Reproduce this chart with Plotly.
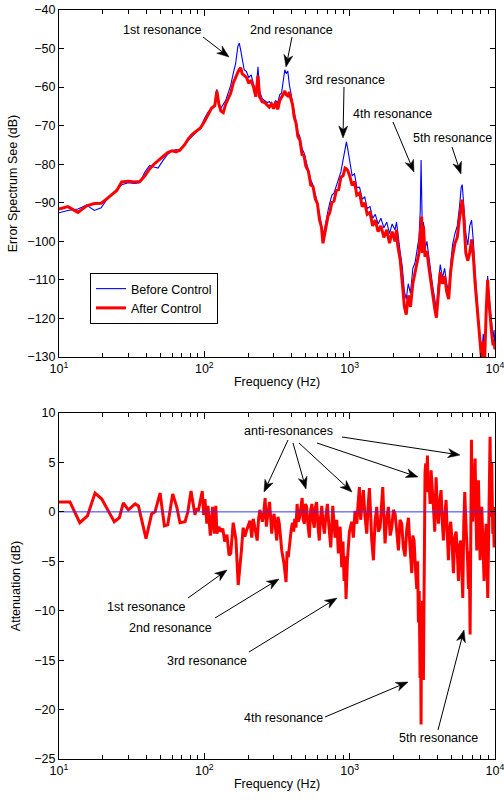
import math
import plotly.graph_objects as go

# ---------------- error spectrum (upper panel) ----------------
freq_spec = [
    10, 11.5, 13.5, 15.5, 17.5, 19.5, 21, 23, 25, 27, 30, 33, 36, 39, 42, 45, 48, 52, 56, 60, 64, 68, 73, 78, 83, 88, 94,
    100, 106, 112, 118, 122, 126, 130, 135, 140, 146, 152, 158, 164, 170, 174, 178, 182, 188, 195, 202, 210, 218, 226, 234,
    240, 250, 260, 270, 280, 290,
    300, 310, 320, 330, 340, 350, 358, 366, 375, 385, 395, 405, 415, 428, 440, 455, 470, 485, 500, 520, 540, 560, 580, 600,
    620, 640, 655, 670, 690, 710, 730, 755, 780, 810, 840, 870, 900, 930, 950, 970,
    1000, 1040, 1080, 1120, 1170, 1220, 1270, 1320, 1380, 1440, 1500, 1570, 1640, 1720, 1800, 1880, 1960, 2050, 2100, 2140,
    2230, 2300, 2380, 2450, 2530, 2620, 2720, 2820, 2920, 3000,
    3060, 3100, 3130, 3160, 3220, 3300, 3400, 3500, 3600, 3720, 3850, 3950, 4050, 4200, 4350, 4500, 4650, 4800, 4950, 5100,
    5300, 5500, 5700, 5850, 5950, 6100, 6300, 6500, 6700, 6900, 7100, 7300, 7500, 7700, 7900, 8100, 8300, 8500, 8700, 8900,
    9100, 9300, 9500, 9700, 9850, 10000,
]
before_db = [
    -92.6, -92.0, -91.6, -90.6, -92.0, -91.3, -89.5, -87.8, -86.5, -85.3, -84.8, -85.0, -84.8, -82.0, -80.3, -80.7, -81.0,
    -79.0, -77.4, -76.5, -76.2, -76.6, -74.8, -73.7, -72.6, -71.7, -70.6,
    -68.2, -66.5, -65.5, -64.5, -60.6, -64.5, -65.5, -64.5, -63.5, -61.5, -59.5, -56.5, -54.0, -49.5, -48.6, -50.5, -53.0,
    -55.5, -56.0, -57.5, -56.8, -59.5, -61.5, -54.7,
    -61.0, -63.0, -63.5, -64.0, -63.8, -64.5,
    -64.6, -63.5, -64.0, -62.0, -61.5, -57.5, -55.5, -56.5, -55.8, -59.5, -62.0, -64.0, -66.0, -69.0, -71.5, -73.0, -76.0,
    -77.0, -79.0, -81.0, -84.0, -85.5, -87.5, -90.0,
    -93.0, -96.0, -98.0, -97.0, -94.0, -92.0, -90.0, -88.0, -87.5, -85.5, -84.0, -82.0, -79.0, -76.0, -74.2, -76.0,
    -79.5, -83.0, -82.5, -86.0, -86.0, -89.0, -88.5, -91.5, -91.0, -94.0, -93.0, -95.5, -94.0, -96.5, -95.0, -98.0, -95.5,
    -97.0, -95.0, -98.0,
    -103.0, -106.5, -113.0, -115.0, -111.0, -113.5, -107.0, -105.5, -101.0, -99.0,
    -92.0, -78.9, -88.0, -97.0, -95.0, -102.0, -100.0, -104.0, -108.0, -111.5, -115.0, -118.0, -112.0, -106.0, -109.5,
    -107.0, -111.0, -113.0, -106.0, -101.0,
    -98.0, -96.0, -91.0, -86.0, -85.3, -90.0, -98.0, -101.0, -96.0, -94.5, -100.0, -108.0, -115.0, -120.0, -126.0, -130.0,
    -124.0, -128.0, -117.0, -109.0,
    -114.0, -118.0, -121.0, -125.0, -123.0, -128.0,
]
after_db = [
    -91.6, -91.0, -92.5, -90.8, -90.2, -90.1, -89.2, -88.0, -86.8, -84.6, -84.4, -84.6, -84.5, -83.0, -81.2, -80.0, -79.2,
    -78.0, -77.0, -76.5, -76.8, -76.3, -75.0, -73.3, -72.2, -71.5, -70.6,
    -69.0, -67.0, -65.5, -64.8, -61.0, -64.5, -66.2, -66.6, -64.5, -63.0, -61.5, -59.0, -57.3, -56.2, -55.4, -55.0, -56.5,
    -57.0, -57.5, -59.0, -58.2, -60.0, -62.5, -57.0,
    -62.5, -63.8, -64.0, -64.6, -65.2, -64.4,
    -65.6, -63.8, -65.8, -63.5, -62.8, -61.8, -61.0, -62.0, -62.3, -61.3, -63.2, -64.6, -67.8, -69.4, -72.8, -73.8, -77.5,
    -77.8, -80.6, -81.8, -85.4, -85.8, -89.0, -90.2,
    -94.4, -96.4, -100.5, -98.4, -96.4, -93.4, -92.6, -89.8, -89.6, -86.8, -86.6, -83.4, -83.0, -81.0, -81.2, -81.6,
    -83.0, -85.5, -84.5, -88.0, -87.5, -91.0, -90.0, -93.0, -92.5, -96.0, -94.5, -97.5, -96.0, -99.0, -97.0, -100.5, -97.5,
    -100.0, -97.0, -101.0,
    -105.0, -110.0, -117.0, -119.0, -114.0, -117.0, -111.0, -108.0, -105.0, -103.0,
    -98.0, -95.0, -93.6, -103.0, -96.0, -104.0, -102.5, -106.5, -110.0, -113.5, -117.5, -119.8, -114.0, -108.0, -111.0,
    -109.0, -113.0, -115.0, -108.0, -104.0,
    -100.5, -99.0, -94.0, -90.0, -89.2, -94.0, -103.0, -105.0, -103.0, -99.5, -104.0, -111.0, -116.0, -121.0, -127.0,
    -131.0, -126.0, -130.0, -118.0, -110.0,
    -116.0, -121.0, -124.0, -127.0, -126.0, -128.0,
]

# ---------------- attenuation (lower panel) ----------------
freq_att = [
    10, 11.9, 13.9, 15.7, 17.7, 19.7, 24, 26, 27.7, 30, 33.4, 35.2, 39.7, 43.4, 45.8, 49.6, 53.1, 56, 60.6, 64.6, 68,
    73.7, 77, 81, 86.2, 88, 90.9, 96.8,
    99, 101, 104, 106, 110, 114, 117, 120, 122, 126, 130, 134, 138, 143, 148, 152, 158, 165, 171, 176, 180, 185, 190, 196,
    206, 212, 217, 224, 231, 236, 241, 251, 256, 262, 267, 272, 281, 291, 296, 302, 308, 315, 321, 328, 341, 354, 365,
    371, 378, 388, 396, 404, 412, 419, 427, 435, 443, 452, 460, 471, 479, 488, 497, 506, 517, 528, 539, 550, 560, 571,
    580, 592, 605, 618, 630, 643, 656, 670, 686, 703, 720, 741, 765, 780, 793, 815, 836, 860, 882, 900, 915, 930, 944,
    965, 980, 996,
    1033, 1060, 1089, 1120, 1145, 1167, 1190, 1211, 1243, 1275, 1311, 1340, 1367, 1395, 1419, 1457, 1495, 1536, 1575,
    1619, 1650, 1689, 1720, 1752, 1800, 1847, 1900, 1948, 2000, 2053, 2110, 2165, 2220, 2282, 2340, 2406, 2470, 2537,
    2600, 2675, 2720, 2775, 2830, 2894, 2935, 2972, 3010, 3051, 3075, 3100, 3115, 3133, 3170, 3217, 3245, 3268, 3300,
    3338, 3380, 3428, 3470, 3519, 3575, 3633, 3700, 3770, 3850, 3932, 4000, 4080, 4160, 4256, 4330, 4417, 4500, 4607,
    4690, 4781, 4870, 4961, 5060, 5175, 5290, 5400, 5500, 5604, 5700, 5815, 5900, 6002, 6100, 6195, 6300, 6395, 6480,
    6566, 6650, 6742, 6800, 6886, 6950, 7020, 7107, 7200, 7297, 7390, 7492, 7590, 7692, 7800, 7898, 8000, 8109, 8250,
    8413, 8550, 8685, 8800, 8917, 9050, 9155, 9250, 9320, 9400, 9500, 9580, 9654, 9760, 9860, 9930, 10000,
]
attenuation_db = [
    1.0, 1.0, -1.1, -0.4, 1.9, 1.3, -1.0, -0.6, 0.9, 0.2, 0.8, 0.6, -2.7, -0.2, 0.0, 1.9, -1.4, -1.3, 1.8, 0.5, -1.1,
    -1.0, 0.0, 2.1, -0.3, 0.3, 0.1, 2.1,
    -0.3, 1.3, -1.2, 0.6, -2.4, 0.5, -2.2, 0.6, -2.2, -1.5, -2.0, -1.7, -3.0, -2.3, -4.4, -4.2, -1.1, -2.8, -7.4, -5.6,
    -3.9, -1.6, -2.5, -1.8,
    -0.9, -2.6, -0.7, -1.8, -2.9, -0.8, 0.2, -1.0, -0.2, 1.4, -1.5, -0.5, 1.0, -2.2, -0.8, -0.2, -1.5, -2.9, -0.5, -1.2,
    -3.9, -5.3, -7.1,
    -4.0, -4.6, -2.6, -1.8, -1.1, -2.0, -0.7, -1.6, 0.8, -1.0, -0.6, 0.4, 1.4, -0.8, -1.2, 0.8, 0.5, -1.4, -2.6, 0.2,
    0.8, -0.9, -1.6,
    0.4, 1.0, -1.4, -2.9, -0.6, 0.6, -1.2, -2.2, -0.4, 0.8, -1.5, -3.6, 0.6, -1.2, -2.6, -0.8, -4.2, -1.5, -5.6, -3.0,
    -7.0, -4.5, -8.8,
    -4.9, -3.2, -2.0,
    -1.0, -2.6, 0.1, -1.2, 1.0, 2.5, -0.8, 0.5, 2.2, -0.5, -2.2, 0.6, 2.4, -0.3, -2.9, -4.9, -1.0, 0.5, -2.0,
    -1.6, 0.8, 2.5, -0.5, -3.2, -0.6, 0.5, -2.4, -1.6, 0.2, -0.2, -2.0, -3.9, -0.8, -1.2, -3.6, -4.5, -1.8, -0.6,
    -3.5, -6.2, -2.4, -2.9, -5.5, -7.8, -5.0, -11.2, -8.0, -16.8, -12.0, -21.5, -14.0, -12.9, -9.0, -17.0, -6.0, 1.2, 4.0,
    4.9, 2.0, 5.7, 2.0, 3.2, 0.8, 4.2, 1.5, 0.5, -2.0, 3.5, 0.8, -1.2, 1.0, 2.2, -0.8, -2.9, -0.5, 1.2,
    -2.0, -4.9, -1.8, -1.0, -3.0, -6.2, -2.5, -2.0, -4.0, -7.0, -3.5, -2.9, -5.5, -8.7, -1.0, 2.0, -1.0, -2.9, -5.0,
    -7.8, -4.0, -12.4, -3.0, 7.3, 2.0, -1.0, 0.5, 3.0, 5.4, 0.0, -3.9, 0.5, 3.2, -1.0, -4.9, -1.5, 0.5, -3.0,
    -7.0, -3.0, -1.2, -5.0, -8.7, -2.0, 2.2, 7.6, 3.0, -0.5, 5.0, 1.0, -2.2, -1.0, -3.6, 0.5, -3.5,
]
zero_ref_freq = [10, 10000]
zero_ref_db = [0, 0]

spec_ticks = list(range(-130, -39, 10))
att_ticks = list(range(-25, 11, 5))
decade_vals = [10, 100, 1000, 10000]
decade_text = ["10<sup>1</sup>", "10<sup>2</sup>", "10<sup>3</sup>", "10<sup>4</sup>"]
minor_vals = [m * d for d in (10, 100, 1000) for m in range(2, 10)]

assert len(freq_spec) == len(before_db) == len(after_db)
assert len(freq_att) == len(attenuation_db)

# ---------------- layout helpers ----------------
W, H = 504, 803
L, R, T, B = 59, 495, 10, 759  # plotting region in pixels
FONT = "Liberation Sans, Arial, Helvetica, sans-serif"
FS = 12.5


def paper(px, py):
    return (px - L) / (R - L), (B - py) / (B - T)


top_dom = [(B - 357) / (B - T), 1.0]
bot_dom = [0.0, (B - 413) / (B - T)]

fig = go.Figure()
fig.add_trace(go.Scatter(x=freq_spec, y=before_db, mode="lines", name="Before Control",
                         line=dict(color="#0000ff", width=1.1), xaxis="x", yaxis="y"))
fig.add_trace(go.Scatter(x=freq_spec, y=after_db, mode="lines", name="After Control",
                         line=dict(color="#ff0000", width=3), xaxis="x", yaxis="y"))
fig.add_trace(go.Scatter(x=freq_att, y=attenuation_db, mode="lines", showlegend=False,
                         line=dict(color="#ff0000", width=3), xaxis="x2", yaxis="y2"))
fig.add_trace(go.Scatter(x=zero_ref_freq, y=zero_ref_db, mode="lines", showlegend=False,
                         line=dict(color="#3333ff", width=1), xaxis="x2", yaxis="y2"))

xcommon = dict(type="log", range=[1, 4], tickmode="array", tickvals=decade_vals, ticktext=decade_text,
               ticks="inside", ticklen=6, tickcolor="black", showline=True, linecolor="black", linewidth=1,
               mirror="ticks", showgrid=False, zeroline=False, ticklabeloverflow="allow",
               minor=dict(tickmode="array", tickvals=minor_vals, ticks="inside", ticklen=4, tickcolor="black",
                          showgrid=False),
               tickfont=dict(family=FONT, size=FS, color="black"))
ycommon = dict(ticks="inside", ticklen=5, tickcolor="black", showline=True, linecolor="black", linewidth=1,
               mirror="ticks", showgrid=False, zeroline=False,
               tickfont=dict(family=FONT, size=FS, color="black"))

fig.update_layout(
    width=W, height=H,
    margin=dict(l=L, r=W - R, t=T, b=H - B, autoexpand=False),
    paper_bgcolor="white", plot_bgcolor="white",
    font=dict(family=FONT, size=FS, color="black"),
    xaxis=dict(**xcommon, domain=[0, 1], anchor="y",
               title=dict(text="Frequency (Hz)", standoff=2, font=dict(family=FONT, size=FS))),
    yaxis=dict(**ycommon, domain=top_dom, anchor="x", range=[-130, -40], tickvals=spec_ticks,
               title=dict(text="Error Spectrum See (dB)", standoff=6, font=dict(family=FONT, size=FS))),
    xaxis2=dict(**xcommon, domain=[0, 1], anchor="y2",
                title=dict(text="Frequency (Hz)", standoff=2, font=dict(family=FONT, size=FS))),
    yaxis2=dict(**ycommon, domain=bot_dom, anchor="x2", range=[-25, 10], tickvals=att_ticks,
                title=dict(text="Attenuation (dB)", standoff=10, font=dict(family=FONT, size=FS))),
    legend=dict(x=paper(90, 273)[0], y=paper(90, 273)[1], xanchor="left", yanchor="top",
                bgcolor="white", bordercolor="black", borderwidth=1,
                font=dict(family=FONT, size=FS, color="black"), tracegroupgap=0),
)

# text labels: (text, centre x px, centre y px)
labels = [
    ("1st resonance", 162, 30), ("2nd resonance", 291, 30), ("3rd resonance", 344.5, 80),
    ("4th resonance", 392.5, 114), ("5th resonance", 452, 138),
    ("anti-resonances", 288.5, 431),
    ("1st resonance", 146.5, 607), ("2nd resonance", 170.5, 628), ("3rd resonance", 206.5, 661),
    ("4th resonance", 283, 718), ("5th resonance", 438, 738),
]
# arrows: (tail x, tail y, tip x, tip y) in pixels
arrows = [
    (203, 37, 229, 57), (292, 37, 286, 67), (344, 87, 343, 138), (393, 122, 414, 172), (452, 147, 461, 174),
    (288, 440, 264, 492), (293, 443, 306, 489), (299, 443, 352, 492), (317, 443, 418, 477), (342, 437, 460, 455),
    (188, 598, 227, 570), (215, 618, 279, 579), (249, 652, 337, 598), (325, 717, 408, 682), (438, 730, 464, 630),
]

annotations = []
for text, cx, cy in labels:
    px_, py_ = paper(cx, cy)
    annotations.append(dict(text=text, x=px_, y=py_, xref="paper", yref="paper", showarrow=False,
                            xanchor="center", yanchor="middle",
                            font=dict(family=FONT, size=FS, color="black")))

# arrows drawn as a shaft plus a notched, filled head
HEAD_LEN, HEAD_HALF, NOTCH = 12.0, 4.5, 3.5
shapes = []
for tx, ty, hx, hy in arrows:
    dx, dy = hx - tx, hy - ty
    n = math.hypot(dx, dy)
    ux, uy = dx / n, dy / n
    vx, vy = -uy, ux
    bx, by = hx - HEAD_LEN * ux, hy - HEAD_LEN * uy
    nx_, ny_ = hx - (HEAD_LEN - NOTCH) * ux, hy - (HEAD_LEN - NOTCH) * uy
    pts = [(hx, hy), (bx + HEAD_HALF * vx, by + HEAD_HALF * vy), (nx_, ny_),
           (bx - HEAD_HALF * vx, by - HEAD_HALF * vy)]
    x0, y0 = paper(tx, ty)
    x1, y1 = paper(nx_, ny_)
    shapes.append(dict(type="line", xref="paper", yref="paper", x0=x0, y0=y0, x1=x1, y1=y1,
                       line=dict(color="black", width=1)))
    path = "M " + " L ".join("{:.5f},{:.5f}".format(*paper(px_, py_)) for px_, py_ in pts) + " Z"
    shapes.append(dict(type="path", xref="paper", yref="paper", path=path,
                       fillcolor="black", line=dict(color="black", width=0.5)))

fig.update_layout(annotations=annotations, shapes=shapes)

fig.write_html("out.html")
